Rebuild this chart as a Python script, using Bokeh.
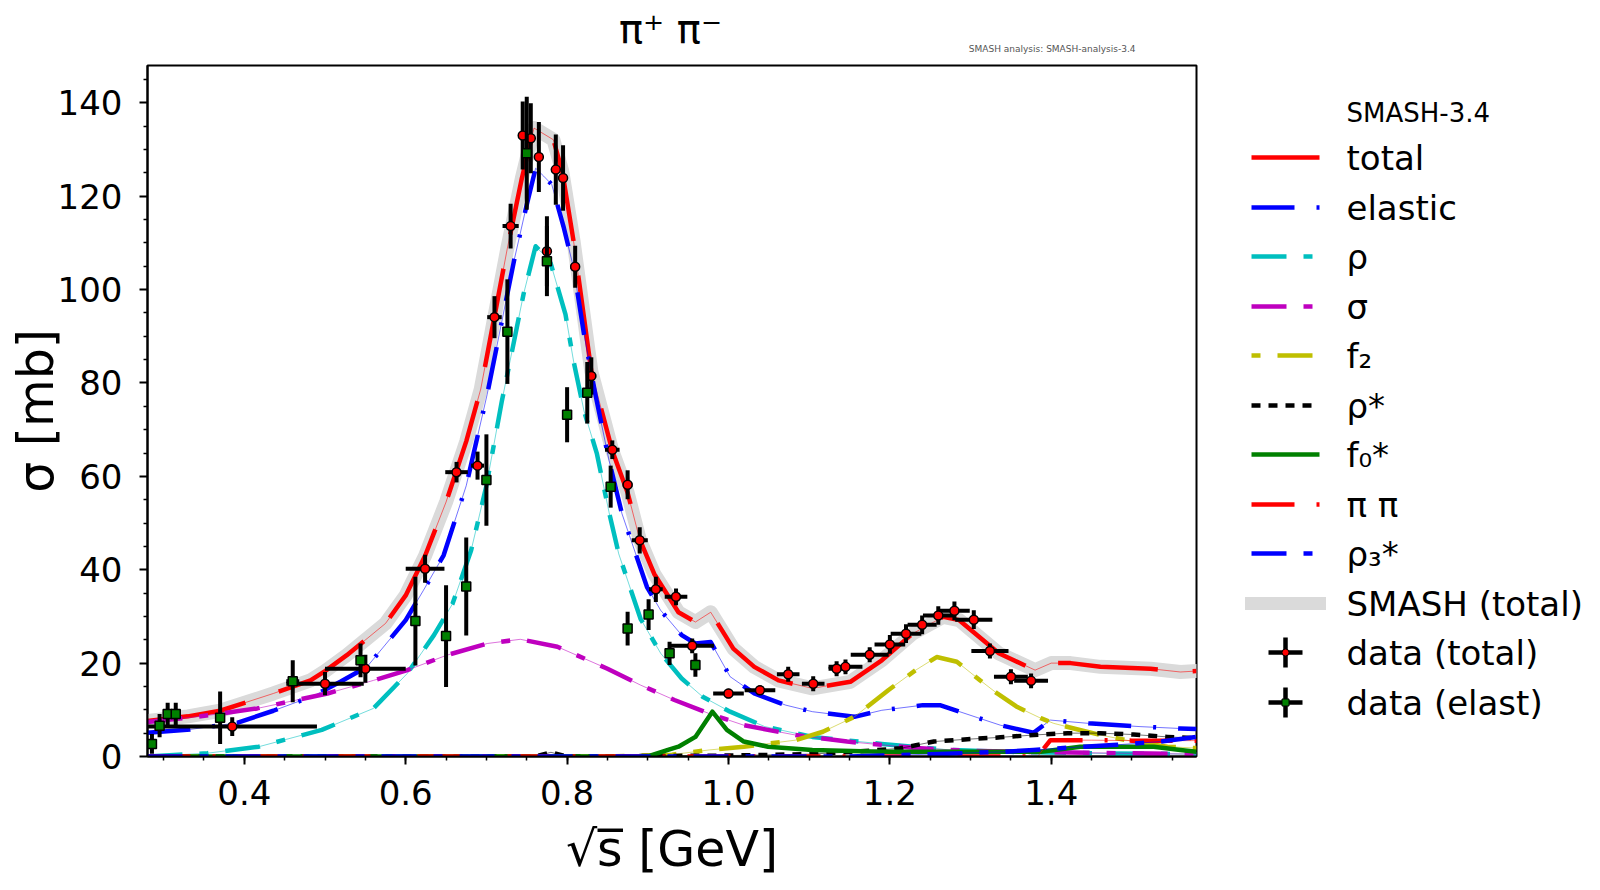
import numpy as np
from bokeh.plotting import figure
from bokeh.models import Range1d, FixedTicker
from bokeh.layouts import row, column
from bokeh.embed import file_html
from bokeh.resources import INLINE
from bokeh.core.properties import value

FONT = "DejaVu Sans"

# ---------------- ticks ----------------
x_ticks = [0.4, 0.6, 0.8, 1.0, 1.2, 1.4]
x_tick_labels = ["0.4", "0.6", "0.8", "1.0", "1.2", "1.4"]
x_minor_ticks = [0.30, 0.35, 0.40, 0.45, 0.50, 0.55, 0.60, 0.65, 0.70, 0.75, 0.80, 0.85,
                 0.90, 0.95, 1.00, 1.05, 1.10, 1.15, 1.20, 1.25, 1.30, 1.35, 1.40, 1.45,
                 1.50, 1.55]
y_ticks = [0, 20, 40, 60, 80, 100, 120, 140]
y_tick_labels = ["0", "20", "40", "60", "80", "100", "120", "140"]
y_minor_ticks = [5, 10, 15, 25, 30, 35, 45, 50, 55, 65, 70, 75, 85, 90, 95, 105, 110,
                 115, 125, 130, 135, 145]

# ---------------- SMASH curves ----------------
tot_x = [0.28, 0.33, 0.37, 0.436, 0.482, 0.50, 0.527, 0.575, 0.60, 0.624, 0.65, 0.675,
         0.693, 0.726, 0.744, 0.759, 0.783, 0.794, 0.808, 0.830, 0.856, 0.875, 0.890,
         0.908, 0.938, 0.959, 0.978, 1.006, 1.032, 1.062, 1.104, 1.151, 1.190, 1.228,
         1.266, 1.286, 1.335, 1.380, 1.400, 1.424, 1.461, 1.523, 1.560, 1.580]
tot_y = [7.6, 8.6, 9.8, 13.5, 16.3, 18.3, 21.7, 28.5, 34.5, 43.0, 54.5, 67.5,
         78.7, 108.9, 123.9, 134.6, 132.1, 125.3, 110.4, 82.5, 65.5, 56.5, 46.5,
         39.1, 30.9, 28.8, 30.9, 23.1, 19.2, 16.3, 14.6, 16.0, 20.6, 26.3,
         29.9, 29.2, 22.1, 18.5, 20.0, 20.0, 19.2, 18.8, 18.1, 18.3]

# reference SMASH total (grey band)
ref_x = tot_x
ref_y = tot_y

el_x = [0.28, 0.333, 0.391, 0.436, 0.486, 0.519, 0.552, 0.600, 0.622, 0.647, 0.675, 0.701,
        0.734, 0.750, 0.761, 0.771, 0.781, 0.796, 0.808, 0.821, 0.835, 0.852, 0.868, 0.885,
        0.899, 0.916, 0.942, 0.959, 0.978, 1.002, 1.032, 1.071, 1.104, 1.156, 1.190, 1.241,
        1.262, 1.309, 1.337, 1.378, 1.399, 1.446, 1.510, 1.560, 1.580]
el_y = [5.1, 5.8, 7.2, 9.8, 13.0, 16.0, 19.2, 29.2, 35.6, 43.1, 58.0, 77.6,
        106.0, 118.2, 126.0, 124.3, 122.5, 113.2, 104.7, 90.4, 77.6, 63.4, 52.0, 43.4,
        36.3, 31.3, 26.0, 24.2, 24.5, 17.1, 13.5, 11.0, 9.6, 8.5, 9.9, 11.0,
        11.0, 8.3, 6.7, 5.1, 7.8, 7.1, 6.4, 6.0, 5.9]

rho_x = [0.28, 0.354, 0.418, 0.496, 0.560, 0.602, 0.635, 0.658, 0.681, 0.700, 0.719, 0.726,
         0.746, 0.761, 0.779, 0.798, 0.808, 0.821, 0.837, 0.852, 0.864, 0.891, 0.916, 0.942,
         0.968, 1.002, 1.045, 1.104, 1.190, 1.275, 1.350, 1.450, 1.580]
rho_y = [0.0, 0.7, 2.1, 5.7, 10.3, 17.8, 26.0, 32.7, 44.1, 58.0, 76.0, 81.9,
         99.0, 109.3, 106.0, 94.7, 84.7, 74.0, 64.8, 52.3, 43.4, 29.5, 22.1, 16.7,
         12.8, 9.6, 6.4, 4.2, 2.7, 1.4, 1.0, 0.7, 0.5]

sig_x = [0.28, 0.346, 0.416, 0.503, 0.560, 0.602, 0.651, 0.701, 0.742, 0.788, 0.850, 0.891,
         0.933, 0.976, 1.019, 1.083, 1.147, 1.232, 1.300, 1.400, 1.580]
sig_y = [7.4, 8.6, 10.3, 13.5, 16.3, 18.5, 21.7, 24.2, 25.1, 23.5, 18.8, 15.3,
         12.1, 9.2, 6.7, 4.6, 3.2, 1.8, 1.2, 0.9, 0.5]

f2_x = [0.28, 0.85, 0.93, 0.976, 1.019, 1.083, 1.117, 1.156, 1.198, 1.232, 1.258, 1.283,
        1.312, 1.333, 1.358, 1.387, 1.403, 1.428, 1.461, 1.502, 1.544, 1.580]
f2_y = [0.0, 0.0, 0.4, 1.4, 2.1, 3.5, 5.3, 8.5, 14.2, 18.5, 21.3, 20.3,
        16.3, 13.5, 10.6, 8.2, 7.1, 6.0, 4.6, 3.2, 2.1, 1.8]

rhos_x = [0.28, 0.76, 0.78, 0.80, 1.00, 1.10, 1.155, 1.213, 1.2545, 1.296, 1.337, 1.378,
          1.420, 1.461, 1.502, 1.544, 1.580]
rhos_y = [0.0, 0.0, 0.9, 0.0, 0.2, 0.5, 1.0, 1.75, 3.2, 3.7, 4.1, 4.6,
          5.0, 5.0, 4.7, 4.2, 3.9]

f0s_x = [0.28, 0.90, 0.925, 0.938, 0.959, 0.980, 0.998, 1.019, 1.049, 1.104, 1.190, 1.300,
         1.387, 1.436, 1.527, 1.560, 1.580]
f0s_y = [0.0, 0.0, 1.4, 2.1, 4.2, 9.6, 5.7, 3.2, 2.1, 1.4, 1.0, 1.0,
         1.0, 2.1, 2.1, 1.4, 1.0]

pipi_x = [0.28, 1.383, 1.399, 1.450, 1.500, 1.580]
pipi_y = [0.0, 0.0, 3.5, 3.5, 3.4, 3.4]

rho3_x = [0.28, 1.15, 1.25, 1.34, 1.378, 1.44, 1.482, 1.535, 1.580]
rho3_y = [0.0, 0.0, 0.5, 1.0, 1.4, 2.1, 2.5, 3.2, 4.2]

# ---------------- data points ----------------
dt_x = [0.385, 0.500, 0.550, 0.624, 0.663, 0.689, 0.710, 0.730, 0.745, 0.755, 0.765, 0.775,
        0.786, 0.795, 0.810, 0.830, 0.856, 0.875, 0.890, 0.910, 0.935, 0.955, 1.000, 1.039,
        1.074, 1.105, 1.134, 1.145, 1.175, 1.200, 1.220, 1.240, 1.260, 1.280, 1.304, 1.324,
        1.350, 1.375]
dt_y = [6.4, 15.6, 18.8, 40.2, 60.9, 62.3, 94.1, 113.6, 133.0, 132.4, 128.4, 108.2,
        125.7, 123.9, 104.9, 81.5, 65.7, 58.2, 46.3, 35.8, 34.2, 23.7, 13.5, 14.2,
        17.6, 15.6, 18.8, 19.2, 21.8, 24.0, 26.3, 28.2, 30.2, 31.2, 29.3, 22.6,
        17.1, 16.2]
dt_xerr = [0.105, 0.048, 0.050, 0.024, 0.014, 0.008, 0.009, 0.010, 0.004, 0.004, 0.004, 0.004,
           0.004, 0.004, 0.006, 0.006, 0.009, 0.006, 0.010, 0.0085, 0.014, 0.027, 0.019, 0.019,
           0.014, 0.014, 0.010, 0.021, 0.0235, 0.019, 0.019, 0.018, 0.019, 0.019, 0.023, 0.023,
           0.021, 0.021]
dt_yerr = [2.0, 2.5, 3.0, 3.0, 2.2, 3.0, 4.5, 4.8, 7.3, 7.5, 7.5, 7.5,
           7.5, 7.0, 4.5, 4.0, 2.0, 3.1, 2.8, 2.7, 1.8, 1.6, 1.0, 1.0,
           1.6, 1.6, 1.6, 1.6, 1.6, 2.0, 2.0, 2.0, 2.0, 2.0, 2.0, 1.6,
           1.6, 1.6]

de_x = [0.2855, 0.295, 0.305, 0.315, 0.370, 0.460, 0.544, 0.612, 0.650, 0.675, 0.700, 0.726,
        0.750, 0.775, 0.800, 0.825, 0.854, 0.875, 0.901, 0.927, 0.959]
de_y = [2.7, 6.6, 9.1, 9.1, 8.3, 16.1, 20.6, 29.0, 25.8, 36.4, 59.2, 91.0,
        129.2, 106.1, 73.2, 77.9, 57.8, 27.4, 30.4, 22.1, 19.6]
de_xerr = [0.0, 0.0, 0.0, 0.0, 0.0, 0.008, 0.0045, 0.0, 0.0, 0.0, 0.0, 0.0,
           0.0, 0.0, 0.0, 0.0, 0.0, 0.0, 0.0, 0.0, 0.0]
de_yerr = [2.1, 2.5, 2.4, 2.4, 5.6, 4.5, 3.6, 9.5, 10.9, 10.5, 9.8, 11.2,
           12.1, 7.5, 5.9, 6.6, 4.5, 3.6, 3.3, 2.5, 2.5]

# ---------------- texts ----------------
title_text = "π⁺ π⁻"
xlabel_text = "√s\u0305 [GeV]"
ylabel_text = "σ [mb]"
note_text = "SMASH analysis: SMASH-analysis-3.4"
legend_title = "SMASH-3.4"
legend_labels = ["total", "elastic", "ρ", "σ", "f₂", "ρ*", "f₀*", "π π", "ρ₃*",
                 "SMASH (total)", "data (total)", "data (elast)"]

# ---------------- styles ----------------
RED, BLUE, CYAN, MAG, YEL, BLK, GRN = "#ff0000", "#0000ff", "#00bfbf", "#bf00bf", "#bfbf00", "#000000", "#008000"
GREY = "#dadada"
curves = [
    (tot_x, tot_y, RED, "100 35", "solid"),
    (el_x, el_y, BLUE, "43 22 3 22", "43 22 3 22"),
    (rho_x, rho_y, CYAN, "35 17 9 17", "35 17 9 17"),
    (sig_x, sig_y, MAG, "35 17 9 17", "35 17 9 17"),
    (f2_x, f2_y, YEL, "9 17 35 17", "9 17 35 17"),
    (rhos_x, rhos_y, BLK, "9 8", "9 8"),
    (f0s_x, f0s_y, GRN, "solid", "solid"),
    (pipi_x, pipi_y, RED, "43 22 3 22", "43 22 3 22"),
    (rho3_x, rho3_y, BLUE, "35 17 9 17", "35 17 9 17"),
]

# ---------------- geometry (page pixels, page has no margin) ----------------
X_RANGE = (0.28, 1.58)
Y_RANGE = (0.0, 148.0)
W, H = 1600, 890
TOP_H = 64                      # strip above the plot holding title + note
W1 = 1208                       # main figure width
FRAME_L, FRAME_R, FRAME_T, FRAME_B = 147, 1196, 65, 756
H2 = H - TOP_H                  # height of main and legend figures

# ---- top strip (data units = page pixels) ----
top = figure(width=W, height=TOP_H, x_range=Range1d(FRAME_L, FRAME_R), y_range=Range1d(TOP_H, 0),
             output_backend="svg", toolbar_location=None, title=None,
             x_axis_location=None, y_axis_location=None,
             min_border_left=FRAME_L, min_border_right=W - FRAME_R,
             min_border_top=0, min_border_bottom=0)
top.xgrid.visible = False
top.ygrid.visible = False
top.outline_line_color = None
top.background_fill_color = "white"
top.border_fill_color = "white"
top.text(x=[670], y=[28], text=[title_text], text_font=value(FONT), text_font_size="40px",
         text_align="center", text_baseline="middle", text_color="black")
top.text(x=[1135], y=[48], text=[note_text], text_font=value(FONT), text_font_size="9px",
         text_align="right", text_baseline="middle", text_color="#555555")

# ---- main plot ----
p = figure(width=W1, height=H2, x_range=Range1d(*X_RANGE), y_range=Range1d(*Y_RANGE),
           output_backend="svg", toolbar_location=None, title=None,
           min_border_left=FRAME_L, min_border_right=W1 - FRAME_R,
           min_border_top=FRAME_T - TOP_H, min_border_bottom=H - FRAME_B)
p.xgrid.visible = False
p.ygrid.visible = False
p.outline_line_color = "black"
p.outline_line_width = 2
p.background_fill_color = "white"
p.border_fill_color = "white"

for ax in (p.xaxis[0], p.yaxis[0]):
    ax.axis_line_width = 2
    ax.major_tick_line_width = 2
    ax.minor_tick_line_width = 1.5
    ax.major_tick_in = 0
    ax.major_tick_out = 8
    ax.minor_tick_in = 0
    ax.minor_tick_out = 4
    ax.major_label_text_font = FONT
    ax.major_label_text_font_size = "34px"
    ax.major_label_text_color = "black"
    ax.axis_label_text_font = FONT
    ax.axis_label_text_font_size = "49px"
    ax.axis_label_text_font_style = "normal"
    ax.axis_label_text_color = "black"

p.xaxis[0].ticker = FixedTicker(ticks=x_ticks, minor_ticks=x_minor_ticks)
p.xaxis[0].major_label_overrides = {t: l for t, l in zip(x_ticks, x_tick_labels)}
p.xaxis[0].major_label_standoff = 15
p.xaxis[0].axis_label = xlabel_text
p.xaxis[0].axis_label_standoff = 13
p.yaxis[0].ticker = FixedTicker(ticks=y_ticks, minor_ticks=y_minor_ticks)
p.yaxis[0].major_label_overrides = {t: l for t, l in zip(y_ticks, y_tick_labels)}
p.yaxis[0].major_label_standoff = 17
p.yaxis[0].axis_label = ylabel_text
p.yaxis[0].axis_label_standoff = -10

# grey reference band
p.line(ref_x, ref_y, line_color=GREY, line_width=14, line_join="round", line_cap="square")

for cx, cy, col, dash, _ in curves:
    p.line(cx, cy, line_color=col, line_width=1, line_alpha=0.55, line_join="round")
    p.line(cx, cy, line_color=col, line_width=4.5, line_dash=dash, line_join="round")

# data (total)
ax_ = np.array(dt_x); ay_ = np.array(dt_y); axe = np.array(dt_xerr); aye = np.array(dt_yerr)
p.segment(x0=ax_ - axe, y0=ay_, x1=ax_ + axe, y1=ay_, line_color="black", line_width=4)
p.segment(x0=ax_, y0=ay_ - aye, x1=ax_, y1=ay_ + aye, line_color="black", line_width=4)
p.scatter(ax_, ay_, marker="circle", size=9, fill_color=RED, line_color="black", line_width=1.5)

# data (elastic)
bx_ = np.array(de_x); by_ = np.array(de_y); bxe = np.array(de_xerr); bye = np.array(de_yerr)
p.segment(x0=bx_ - bxe, y0=by_, x1=bx_ + bxe, y1=by_, line_color="black", line_width=4)
p.segment(x0=bx_, y0=by_ - bye, x1=bx_, y1=by_ + bye, line_color="black", line_width=4)
p.scatter(bx_, by_, marker="square", size=9, fill_color=GRN, line_color="black", line_width=1.5)

# ---------------- legend figure (data units = page pixels) ----------------
W2 = W - W1
lg = figure(width=W2, height=H2, x_range=Range1d(0, W2), y_range=Range1d(FRAME_B, FRAME_T),
            output_backend="svg", toolbar_location=None, title=None,
            x_axis_location=None, y_axis_location=None,
            min_border_left=0, min_border_right=0,
            min_border_top=FRAME_T - TOP_H, min_border_bottom=H - FRAME_B)
lg.xgrid.visible = False
lg.ygrid.visible = False
lg.outline_line_color = None
lg.background_fill_color = "white"
lg.border_fill_color = "white"

row_y = [157, 207, 256, 306, 355, 405, 454, 504, 553, 603, 652, 702]
lx0, lx1 = 1251 - W1, 1319 - W1
tx = 1346 - W1

lg.text(x=[tx], y=[112], text=[legend_title], text_font=value(FONT),
        text_font_size="26px", text_baseline="middle", text_color="black")

for i, (_, _, col, _, ldash) in enumerate(curves):
    lg.line([lx0, lx1], [row_y[i], row_y[i]], line_color=col, line_width=4.5, line_dash=ldash)
# grey band handle
lg.line([lx0, lx1], [row_y[9], row_y[9]], line_color=GREY, line_width=13, line_cap="square")
# data handles
cxm = (lx0 + lx1) / 2.0
for k, (mk, fc) in enumerate([("circle", RED), ("square", GRN)]):
    yy = row_y[10 + k]
    lg.segment(x0=[cxm - 17], y0=[yy], x1=[cxm + 17], y1=[yy], line_color="black", line_width=4.5)
    lg.segment(x0=[cxm], y0=[yy - 15], x1=[cxm], y1=[yy + 15], line_color="black", line_width=4.5)
    lg.scatter([cxm], [yy], marker=mk, size=7, fill_color=fc, line_color="black", line_width=1)

lg.text(x=[tx] * len(legend_labels), y=row_y, text=legend_labels, text_font=value(FONT),
        text_font_size="34px", text_baseline="middle", text_color="black")

layout = column(top, row(p, lg))
open("out.html", "w").write(file_html(layout, INLINE, title="pi+ pi- cross section"))
